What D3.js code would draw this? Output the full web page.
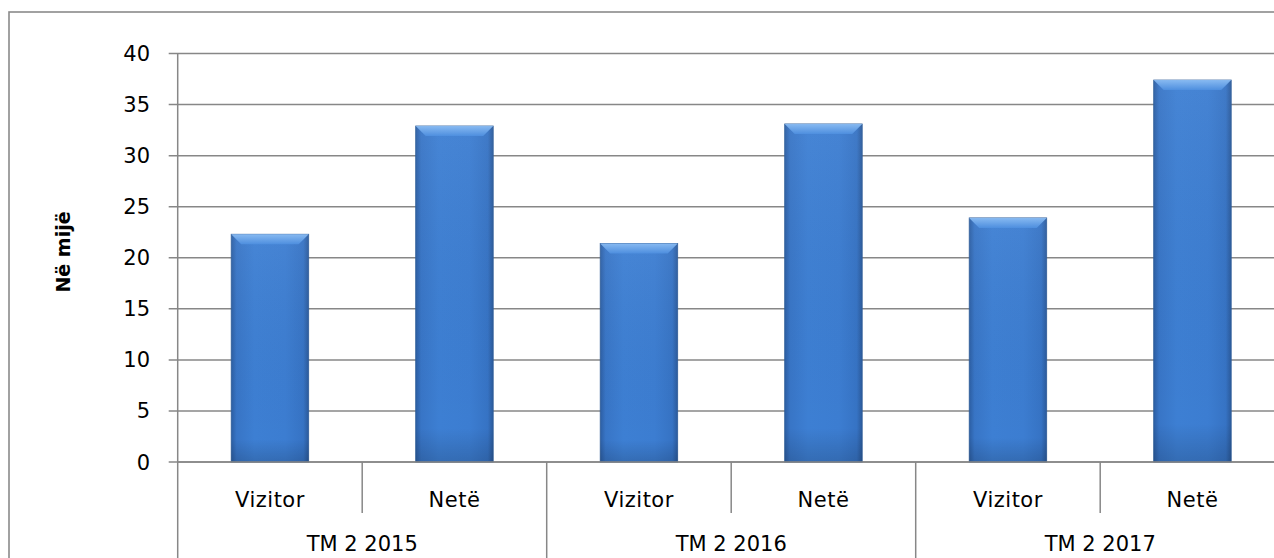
<!DOCTYPE html>
<html>
<head>
<meta charset="utf-8">
<script src="https://cdn.jsdelivr.net/npm/d3@7"></script>
<style>
	body { margin: 0; background: #fff; overflow: hidden; }
	svg text { font-family: "DejaVu Sans", sans-serif; fill: #000; }
</style>
</head>
<body>
<svg id="svgarea" width="1274" height="558"></svg>
<script>
// chart data
const groups		= ['TM 2 2015', 'TM 2 2016', 'TM 2 2017'];
const categories	= ['Vizitor', 'Netë'];
const vizitor		= [22.3, 21.4, 23.9];
const nete			= [32.9, 33.1, 37.4];
const yTicks		= [0, 5, 10, 15, 20, 25, 30, 35, 40];
const yLabel		= 'Në mijë';

const gridColor		= '#878787';
const svg			= d3.select('#svgarea');

// plot area (the right side of the chart is cropped in the picture)
const plotLeft		= 177.7;
const plotRight		= 1284.7;
const plotTop		= 53.5;
const plotBottom	= 462;

// rows: one per bar, keyed by group + category
var rows = [];
groups.forEach(function(g, i){
	rows.push({group: g, cat: categories[0], value: vizitor[i], key: g + '|' + categories[0]});
	rows.push({group: g, cat: categories[1], value: nete[i], key: g + '|' + categories[1]});
});

var x = d3.scaleBand()
	.domain(rows.map(function(d){ return d.key; }))
	.range([plotLeft, plotRight])
	.paddingInner(0.58)
	.paddingOuter(0.29);

var step = (plotRight - plotLeft) / rows.length;

var y = d3.scaleLinear().domain([0, 40]).range([plotBottom, plotTop]);

// gradients for the bevelled bars
var defs = svg.append('defs');
var grad = defs.append('linearGradient').attr('id', 'barGrad').attr('x1', '0').attr('x2', '1').attr('y1', '0').attr('y2', '0');
[['0%', '#2c5ea3'], ['7%', '#3875c6'], ['30%', '#3d7fd3'], ['70%', '#3c7dd1'], ['93%', '#3673c4'], ['100%', '#2b5a9b']].forEach(function(s){
	grad.append('stop').attr('offset', s[0]).attr('stop-color', s[1]);
});
var vgrad = defs.append('linearGradient').attr('id', 'barShade').attr('x1', '0').attr('x2', '0').attr('y1', '0').attr('y2', '1');
vgrad.append('stop').attr('offset', '0%').attr('stop-color', '#ffffff').attr('stop-opacity', 0.05);
vgrad.append('stop').attr('offset', '90%').attr('stop-color', '#000000').attr('stop-opacity', 0.0);
vgrad.append('stop').attr('offset', '100%').attr('stop-color', '#000000').attr('stop-opacity', 0.15);
var topGrad = defs.append('linearGradient').attr('id', 'topGrad').attr('x1', '0').attr('x2', '0').attr('y1', '0').attr('y2', '1');
topGrad.append('stop').attr('offset', '0%').attr('stop-color', '#8fc0f5');
topGrad.append('stop').attr('offset', '100%').attr('stop-color', '#4f90e0');

// outer chart border
svg.append('rect')
	.attr('x', 9).attr('y', 12)
	.attr('width', 1300).attr('height', 600)
	.attr('fill', 'none')
	.attr('stroke', '#8a8a8a')
	.attr('stroke-width', 1.6);

// gridlines + y ticks
var yg = svg.append('g');
yTicks.forEach(function(t){
	yg.append('line')
		.attr('x1', plotLeft - 9).attr('x2', plotRight)
		.attr('y1', y(t)).attr('y2', y(t))
		.attr('stroke', gridColor).attr('stroke-width', 1.5);
	yg.append('text')
		.attr('x', 150).attr('y', y(t))
		.attr('dy', '0.36em')
		.attr('text-anchor', 'end')
		.style('font-size', '21px')
		.text(t);
});

// y axis line (runs down through the category rows)
svg.append('line')
	.attr('x1', plotLeft).attr('x2', plotLeft)
	.attr('y1', plotTop).attr('y2', 570)
	.attr('stroke', gridColor).attr('stroke-width', 1.5);

// y axis title
svg.append('text')
	.attr('transform', 'translate(70,252) rotate(-90)')
	.attr('text-anchor', 'middle')
	.style('font-size', '19px')
	.style('font-weight', 'bold')
	.text(yLabel);

// bars
var bars = svg.append('g').selectAll('g').data(rows).enter().append('g');
bars.append('rect')
	.attr('x', function(d){ return x(d.key); })
	.attr('y', function(d){ return y(d.value); })
	.attr('width', x.bandwidth())
	.attr('height', function(d){ return y(0) - y(d.value); })
	.attr('fill', 'url(#barGrad)')
	.attr('stroke', '#2f5d99')
	.attr('stroke-width', 0.8);
bars.append('rect')
	.attr('x', function(d){ return x(d.key); })
	.attr('y', function(d){ return y(d.value); })
	.attr('width', x.bandwidth())
	.attr('height', function(d){ return y(0) - y(d.value); })
	.attr('fill', 'url(#barShade)');
// top bevel
bars.append('polygon')
	.attr('points', function(d){
		var x0 = x(d.key), x1 = x0 + x.bandwidth(), y0 = y(d.value);
		return [[x0, y0], [x1, y0], [x1 - 10, y0 + 10], [x0 + 10, y0 + 10]].join(' ');
	})
	.attr('fill', 'url(#topGrad)')
	.attr('opacity', 0.9);

// x axis baseline
svg.append('line')
	.attr('x1', plotLeft).attr('x2', plotRight)
	.attr('y1', y(0)).attr('y2', y(0))
	.attr('stroke', gridColor).attr('stroke-width', 1.5);

// category separators
rows.forEach(function(d, i){
	if(i === 0) return;
	var sx = plotLeft + i * step;
	svg.append('line')
		.attr('x1', sx).attr('x2', sx)
		.attr('y1', y(0)).attr('y2', (i % 2 === 0) ? 570 : 513)
		.attr('stroke', gridColor).attr('stroke-width', 1.5);
});

// category labels
svg.append('g').selectAll('text').data(rows).enter().append('text')
	.attr('x', function(d){ return x(d.key) + x.bandwidth() / 2; })
	.attr('y', 507)
	.attr('text-anchor', 'middle')
	.style('font-size', '21px')
	.style('letter-spacing', '0.5px')
	.text(function(d){ return d.cat; });

// group labels (cut at the bottom edge in the reference; kept just inside here)
svg.append('g').selectAll('text').data(groups).enter().append('text')
	.attr('x', function(d, i){ return plotLeft + step * (2 * i + 1); })
	.attr('y', 551)
	.attr('text-anchor', 'middle')
	.style('font-size', '21px')
	.text(function(d){ return d; });
</script>
</body>
</html>
